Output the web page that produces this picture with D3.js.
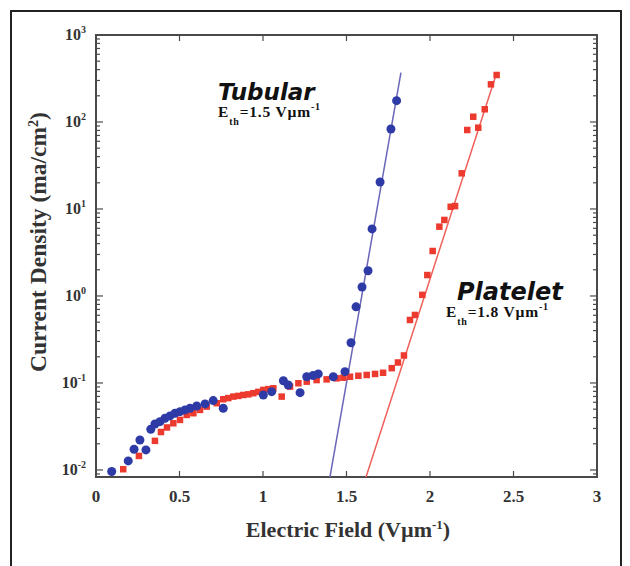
<!DOCTYPE html>
<html>
<head>
<meta charset="utf-8">
<script src="https://cdn.jsdelivr.net/npm/d3@7"></script>
<style>
body { margin: 0; background: #fff; }
text { font-family: "Liberation Serif", "Times New Roman", serif; font-weight: bold; fill: #333; }
</style>
</head>
<body>
<script>
const width = 630, height = 566;
const margin = {top: 35, right: 33, bottom: 89, left: 96};

// Tubular sample (blue circles)
const tubularField = [0.094, 0.193, 0.228, 0.263, 0.299, 0.328, 0.353, 0.383, 0.413, 0.443,
    0.473, 0.503, 0.533, 0.563, 0.603, 0.653, 0.702, 0.762, 1.002, 1.052,
    1.122, 1.151, 1.222, 1.262, 1.300, 1.331, 1.421, 1.491, 1.527, 1.557,
    1.593, 1.629, 1.653, 1.701, 1.766, 1.800];
const tubularCurrent = [0.0096, 0.0127, 0.0173, 0.0221, 0.0170, 0.0294, 0.0338, 0.0359, 0.0393, 0.0418,
    0.0449, 0.0468, 0.0490, 0.0512, 0.0544, 0.0574, 0.0627, 0.0512, 0.0728, 0.0794,
    0.106, 0.0948, 0.0774, 0.118, 0.122, 0.127, 0.118, 0.135, 0.29, 0.75,
    1.27, 1.95, 5.9, 20.4, 83, 176];

// Platelet sample (red squares)
const plateletField = [0.163, 0.257, 0.353, 0.389, 0.425, 0.463, 0.503, 0.543, 0.583, 0.623,
    0.663, 0.723, 0.762, 0.792, 0.822, 0.852, 0.882, 0.912, 0.942, 0.972,
    1.002, 1.032, 1.062, 1.112, 1.162, 1.212, 1.262, 1.321, 1.381, 1.441,
    1.481, 1.521, 1.571, 1.621, 1.671, 1.719, 1.771, 1.808, 1.844, 1.880,
    1.910, 1.954, 1.984, 2.016, 2.056, 2.086, 2.124, 2.150, 2.190, 2.223,
    2.259, 2.289, 2.328, 2.365, 2.399];
const plateletCurrent = [0.0102, 0.0145, 0.0216, 0.0273, 0.0308, 0.0344, 0.0376, 0.0429, 0.0449, 0.0490,
    0.0535, 0.0585, 0.065, 0.067, 0.0697, 0.071, 0.0728, 0.074, 0.0762, 0.079,
    0.0832, 0.085, 0.0869, 0.0697, 0.0908, 0.0993, 0.1035, 0.108, 0.110, 0.113,
    0.115, 0.118, 0.121, 0.1236, 0.127, 0.131, 0.148, 0.172, 0.207, 0.53,
    0.605, 1.03, 1.74, 3.29, 6.26, 7.48, 10.6, 10.8, 25.7, 80.9,
    115, 86, 140, 271, 347];

// fitted threshold lines (end points)
const tubularFitField = [1.401, 1.826];
const tubularFitCurrent = [0.0083, 369];
const plateletFitField = [1.617, 2.401];
const plateletFitCurrent = [0.0083, 376];

const xTicks = [0, 0.5, 1, 1.5, 2, 2.5, 3];
const xTickLabels = ["0", "0.5", "1", "1.5", "2", "2.5", "3"];
const yExponents = [-2, -1, 0, 1, 2, 3];

const svg = d3.select("body").append("svg")
    .attr("width", width)
    .attr("height", height);

// outer frame
svg.append("rect")
    .attr("x", 11).attr("y", 11)
    .attr("width", 610).attr("height", 580)
    .attr("fill", "none")
    .attr("stroke", "#222")
    .attr("stroke-width", 2);

const x = d3.scaleLinear().domain([0, 3]).range([margin.left, width - margin.right]);
const y = d3.scaleLog().domain([0.0083, 1000]).range([height - margin.bottom, margin.top]);

const x0 = x.range()[0], x1 = x.range()[1];
const y0 = y.range()[0], y1 = y.range()[1];

// minor log ticks
const minor = [];
for (let k = -3; k <= 2; k++) {
    for (let m = 2; m <= 9; m++) {
        const v = m * Math.pow(10, k);
        if (v > y.domain()[0] && v < y.domain()[1]) minor.push(v);
    }
}

const axisColor = "#4a4a4a";
const ticks = svg.append("g").attr("stroke", axisColor).attr("stroke-width", 1.2);

minor.forEach(v => {
    ticks.append("line").attr("x1", x0).attr("x2", x0 + 4).attr("y1", y(v)).attr("y2", y(v));
    ticks.append("line").attr("x1", x1).attr("x2", x1 - 4).attr("y1", y(v)).attr("y2", y(v));
});
yExponents.forEach(e => {
    const v = Math.pow(10, e);
    ticks.append("line").attr("x1", x0).attr("x2", x0 + 7).attr("y1", y(v)).attr("y2", y(v));
    ticks.append("line").attr("x1", x1).attr("x2", x1 - 7).attr("y1", y(v)).attr("y2", y(v));
});
xTicks.forEach(t => {
    ticks.append("line").attr("x1", x(t)).attr("x2", x(t)).attr("y1", y0).attr("y2", y0 - 6);
    ticks.append("line").attr("x1", x(t)).attr("x2", x(t)).attr("y1", y1).attr("y2", y1 + 6);
});

// plot frame
svg.append("rect")
    .attr("x", x0).attr("y", y1)
    .attr("width", x1 - x0).attr("height", y0 - y1)
    .attr("fill", "none")
    .attr("stroke", axisColor)
    .attr("stroke-width", 2);

// tick labels
svg.append("g").selectAll("text")
    .data(xTicks)
    .enter().append("text")
    .attr("x", d => x(d))
    .attr("y", 502)
    .attr("text-anchor", "middle")
    .attr("font-size", 17)
    .text((d, i) => xTickLabels[i]);

const yl = svg.append("g").selectAll("text")
    .data(yExponents)
    .enter().append("text")
    .attr("x", 86)
    .attr("y", d => y(Math.pow(10, d)) + 5)
    .attr("text-anchor", "end")
    .attr("font-size", 16);
yl.append("tspan").text("10");
yl.append("tspan").attr("dy", -7).attr("font-size", 10).text(d => d);

// axis titles
const xt = svg.append("text")
    .attr("x", 348).attr("y", 537)
    .attr("text-anchor", "middle")
    .attr("font-size", 22);
xt.append("tspan").text("Electric Field (Vµm");
xt.append("tspan").attr("dy", -8).attr("font-size", 13).text("-1");
xt.append("tspan").attr("dy", 8).text(")");

const yt = svg.append("text")
    .attr("transform", "translate(46,242) rotate(-90)")
    .attr("text-anchor", "middle")
    .attr("font-size", 23.5);
yt.append("tspan").text("Current Density (ma/cm");
yt.append("tspan").attr("dy", -8).attr("font-size", 14).text("2");
yt.append("tspan").attr("dy", 8).text(")");

// clip for data
svg.append("clipPath").attr("id", "plot")
    .append("rect").attr("x", x0).attr("y", y1).attr("width", x1 - x0).attr("height", y0 - y1);
const g = svg.append("g").attr("clip-path", "url(#plot)");

const line = d3.line().x(d => x(d[0])).y(d => y(d[1]));

g.append("path")
    .datum(d3.zip(plateletFitField, plateletFitCurrent))
    .attr("d", line)
    .attr("fill", "none")
    .attr("stroke", "#f0605a")
    .attr("stroke-width", 1.5);

g.append("path")
    .datum(d3.zip(tubularFitField, tubularFitCurrent))
    .attr("d", line)
    .attr("fill", "none")
    .attr("stroke", "#6a66b8")
    .attr("stroke-width", 1.5);

g.selectAll("rect.platelet")
    .data(d3.zip(plateletField, plateletCurrent))
    .enter().append("rect")
    .attr("class", "platelet")
    .attr("x", d => x(d[0]) - 3.25)
    .attr("y", d => y(d[1]) - 3.25)
    .attr("width", 6.5).attr("height", 6.5)
    .attr("fill", "#ec3a2e");

g.selectAll("circle.tubular")
    .data(d3.zip(tubularField, tubularCurrent))
    .enter().append("circle")
    .attr("class", "tubular")
    .attr("cx", d => x(d[0]))
    .attr("cy", d => y(d[1]))
    .attr("r", 4.5)
    .attr("fill", "#2e3ba6");

// annotations
function label(name, ex, ey, value) {
    svg.append("text")
        .attr("x", ex).attr("y", ey)
        .style("font-family", "'DejaVu Sans', sans-serif")
        .style("font-style", "italic")
        .attr("font-size", name === "Platelet" ? 24 : 23)
        .style("fill", "#111")
        .text(name);
    const t = svg.append("text")
        .attr("x", ex - (name === "Platelet" ? 11 : 0)).attr("y", ey + 17)
        .attr("font-size", 15.5)
        .attr("letter-spacing", 0.8)
        .style("fill", "#111");
    t.append("tspan").text("E");
    t.append("tspan").attr("dy", 8).attr("font-size", 10).text("th");
    t.append("tspan").attr("dy", -8).text("=" + value + " Vµm");
    t.append("tspan").attr("dy", -7).attr("font-size", 10).text("-1");
}
label("Tubular", 218, 100, "1.5");
label("Platelet", 457, 300, "1.8");
</script>
</body>
</html>
